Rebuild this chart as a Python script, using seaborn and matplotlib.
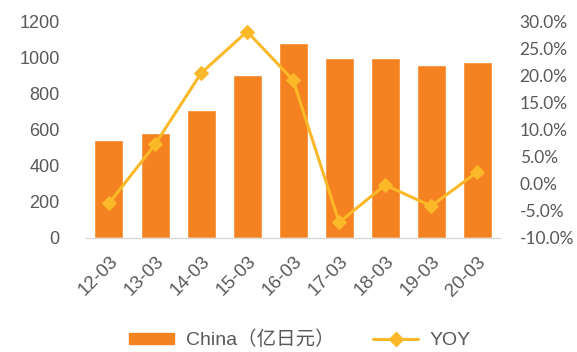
import matplotlib
matplotlib.use("Agg")
import matplotlib.pyplot as plt
import seaborn as sns
import pandas as pd
from matplotlib.patches import Patch
from matplotlib.lines import Line2D
from matplotlib.ticker import FuncFormatter, MultipleLocator

periods = ["12-03", "13-03", "14-03", "15-03", "16-03", "17-03", "18-03", "19-03", "20-03"]
china_values = [545, 583, 710, 903, 1082, 998, 998, 959, 979]
yoy_values = [-3.6, 7.3, 20.5, 28.2, 19.2, -7.1, -0.2, -4.1, 2.2]

bar_color = "#F58220"
line_color = "#FBB829"
text_color = "#595959"

sns.set_theme(style="white")
plt.rcParams["font.family"] = ["Liberation Sans", "Noto Sans CJK SC", "DejaVu Sans"]

df = pd.DataFrame({"period": periods, "china": china_values, "yoy": yoy_values})

fig = plt.figure(figsize=(5.77, 3.52), dpi=100)
ax = fig.add_axes([0.149, 0.324, 0.718, 0.614])

sns.barplot(data=df, x="period", y="china", color=bar_color, saturation=1,
            width=0.63, ax=ax)
ax.set_ylim(0, 1200)
ax.yaxis.set_major_locator(MultipleLocator(200))
ax.set_xlim(-0.5, len(periods) - 0.5)
ax.set_xlabel("")
ax.set_ylabel("")
for s in ["top", "right", "left"]:
    ax.spines[s].set_visible(False)
ax.spines["bottom"].set_color("#D9D9D9")
ax.spines["bottom"].set_linewidth(1.0)
ax.tick_params(axis="y", length=0, labelsize=13, colors=text_color, pad=19)
ax.tick_params(axis="x", length=0, labelsize=13.5, colors=text_color, pad=11)
for lab in ax.get_xticklabels():
    lab.set_rotation(45)
    lab.set_ha("right")
    lab.set_rotation_mode("anchor")

ax2 = ax.twinx()
sns.lineplot(data=df, x="period", y="yoy", sort=False, color=line_color,
             linewidth=2.2, marker="D", markersize=7, markeredgecolor=line_color,
             ax=ax2)
ax2.set_ylim(-10, 30)
ax2.set_xlim(-0.5, len(periods) - 0.5)
ax2.yaxis.set_major_locator(MultipleLocator(5))
ax2.yaxis.set_major_formatter(FuncFormatter(lambda v, p: f"{v:.1f}%"))
ax2.set_ylabel("")
ax2.set_xlabel("")
for s in ["top", "right", "left", "bottom"]:
    ax2.spines[s].set_visible(False)
ax2.tick_params(axis="y", length=0, labelsize=12.5, colors=text_color, pad=14)
for lab in ax2.get_yticklabels():
    lab.set_fontfamily(["Lato", "DejaVu Sans"])

handles = [
    Patch(facecolor=bar_color, edgecolor=bar_color),
    Line2D([0], [0], color=line_color, linewidth=2.2, marker="D", markersize=7),
]
fig.legend(handles, ["China（亿日元）", "YOY"], loc="center", bbox_to_anchor=(0.52, 0.035),
           ncol=2, frameon=False, fontsize=14, labelcolor=text_color,
           handlelength=2.3, handleheight=0.5, handletextpad=0.6, columnspacing=2.0)

fig.savefig("out.png", dpi=100)
